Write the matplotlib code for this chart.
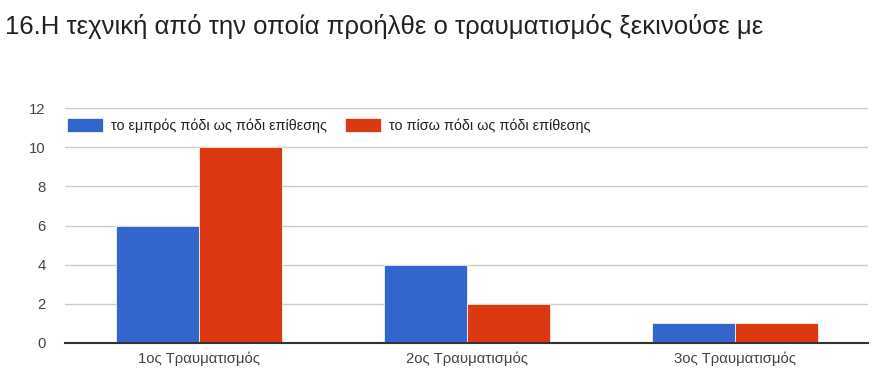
import numpy as np
import matplotlib
matplotlib.use('Agg')
from matplotlib import pyplot as plt

plt.rcParams['font.family'] = ['Liberation Sans', 'DejaVu Sans']

# Data
categories = ['1ος Τραυματισμός', '2ος Τραυματισμός', '3ος Τραυματισμός']
series_names = ['το εμπρός πόδι ως πόδι επίθεσης', 'το πίσω πόδι ως πόδι επίθεσης']
front_foot = [6, 4, 1]
back_foot = [10, 2, 1]
colors = ['#3366cc', '#dc3912']
yticks = [0, 2, 4, 6, 8, 10, 12]

fig = plt.figure(figsize=(8.79, 3.78), dpi=100)
ax = fig.add_axes([0.074, 0.0926, 0.914, 0.6216])

x = np.arange(len(categories))
w = 0.31
ax.bar(x - w / 2, front_foot, w, color=colors[0], label=series_names[0], zorder=3,
       edgecolor='white', linewidth=0.5)
ax.bar(x + w / 2, back_foot, w, color=colors[1], label=series_names[1], zorder=3,
       edgecolor='white', linewidth=0.5)

ax.set_xlim(-0.5, 2.5)
ax.set_ylim(0, 12)
ax.set_yticks(yticks)
ax.set_xticks(x)
ax.set_xticklabels(categories)
ax.tick_params(axis='both', length=0, labelsize=10.7, colors='#444444')
ax.tick_params(axis='x', pad=6)
ax.tick_params(axis='y', pad=14)
ax.yaxis.grid(True, color='#cccccc', linewidth=1, zorder=0)
for s in ['top', 'right', 'left']:
    ax.spines[s].set_visible(False)
ax.spines['bottom'].set_color('#333333')
ax.spines['bottom'].set_linewidth(1.5)
ax.spines['bottom'].set_zorder(4)

leg = ax.legend(loc='upper left', bbox_to_anchor=(-0.01, 1.0), ncol=2, frameon=False,
                fontsize=10.4, handlelength=2.5, handleheight=1.05, columnspacing=1.2,
                handletextpad=0.55, borderaxespad=0.3)
for t in leg.get_texts():
    t.set_color('#222222')

fig.text(0.006, 0.93, '16.Η τεχνική από την οποία προήλθε ο τραυματισμός ξεκινούσε με',
         fontsize=18.5, color='#202124', va='center', ha='left')

fig.savefig('out.png', dpi=100)
